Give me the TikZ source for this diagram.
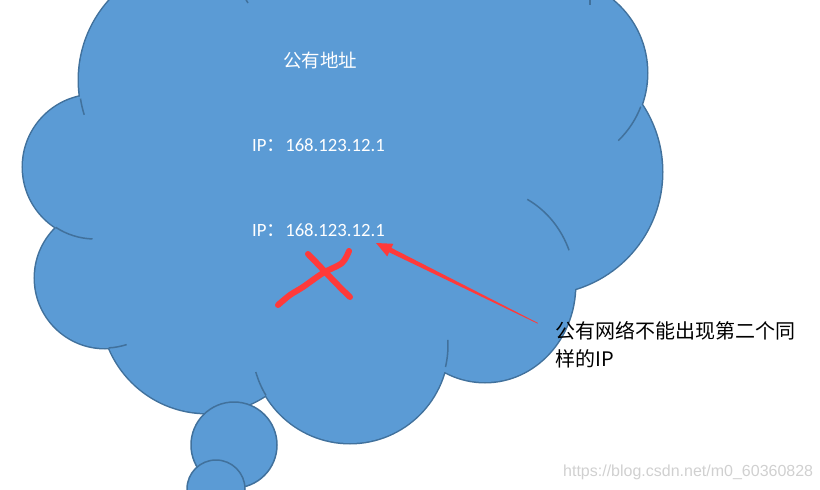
\documentclass[tikz,border=0pt]{standalone}
\usepackage{fontspec}
\setmainfont{Carlito}
\newfontfamily\cjk{Noto Sans CJK SC}
\newfontfamily\wmfont{Liberation Sans}
\definecolor{cloudfill}{RGB}{91,155,213}
\definecolor{cloudline}{RGB}{65,113,156}
\definecolor{markred}{RGB}{255,58,58}
\definecolor{wmgray}{RGB}{208,208,208}
\tikzset{
  outline/.style={draw=cloudline, line width=3},
  inner/.style={draw=cloudline, line width=1.5},
  bubble/.style={fill=cloudfill, draw=cloudline, line width=1.5},
  wtext/.style={text=white, inner sep=0pt},
  strokex/.style={draw=markred, line width=6, line cap=round, line join=round},
}
\begin{document}
\begin{tikzpicture}[x=1pt,y=-1pt]
\useasboundingbox (0,0) rectangle (820,490);
\begin{scope}
\clip (0,0) rectangle (820,490);
% outer outline (half of it will be covered by the fill)
\path[outline]
  (198,80) circle[radius=119]
  (95,167) circle[radius=72]
  (105,278) circle[radius=70]
  (207,307) circle[radius=106]
  (350,345) circle[radius=98]
  (485,285) ellipse[x radius=90, y radius=97]
  (540,172) circle[radius=122]
  (553,73) circle[radius=94]
  (420,-30) circle[radius=150];
% fill
\fill[cloudfill]
  (198,80) circle[radius=119]
  (95,167) circle[radius=72]
  (105,278) circle[radius=70]
  (207,307) circle[radius=106]
  (350,345) circle[radius=98]
  (485,285) ellipse[x radius=90, y radius=97]
  (540,172) circle[radius=122]
  (553,73) circle[radius=94]
  (420,-30) circle[radius=150];
\fill[cloudfill] (198,80) -- (95,167) -- (105,278) -- (207,307) -- (350,345) -- (485,285) -- (540,172) -- (553,73) -- (420,-30) -- cycle;
% inner arcs
\draw[inner] (198,80) ++(171:119) arc[start angle=171, end angle=163, radius=119];
\draw[inner] (95,167) ++(123:72) arc[start angle=123, end angle=92, radius=72];
\draw[inner] (105,278) ++(87:70) arc[start angle=87, end angle=72, radius=70];
\draw[inner] (350,345) ++(149:98) arc[start angle=149, end angle=164, radius=98];
\draw[inner] (350,345) ++(13:98) arc[start angle=13, end angle=-3, radius=98];
\draw[inner] (485,285) ++(-62:90 and 97) arc[start angle=-62, end angle=-21, x radius=90, y radius=97];
\draw[inner] (553,73) ++(21:94) arc[start angle=21, end angle=46, radius=94];
\draw[inner] (245,-2) -- (248,3);
\draw[inner] (590,-2) -- (590,5);
% thought bubbles
\path[bubble] (234,445) circle[radius=43];
\path[bubble] (216,489) circle[radius=29];
\end{scope}
% texts in the cloud
\node[wtext, anchor=base, font=\cjk\fontsize{18.5}{22}\selectfont] (title) at (320,67) {公有地址};
\node[wtext, anchor=base west, font=\fontsize{18.7}{22}\selectfont] (ipa) at (252,151) {IP{\cjk ：}168.123.12.1};
\node[wtext, anchor=base west, font=\fontsize{18.7}{22}\selectfont] (ipb) at (252,236) {IP{\cjk ：}168.123.12.1};
% red cross
\draw[strokex] (308,254) .. controls (320,266) and (336,284) .. (350,297);
\draw[strokex] plot[smooth] coordinates {(278,305) (290,295) (303,287) (323,273) (342,263) (349,251)};
% red arrow
\coordinate (atip) at (376,243);
\coordinate (atail) at (538,323);
\fill[markred] (atip) -- (393.4,243.8) -- (391.4,247.9) -- (atail) -- (537.6,323.6) -- (389.2,252.3) -- (387.2,256.4) -- cycle;
% note
\node[anchor=base west, inner sep=0pt, font=\cjk\fontsize{20}{24}\selectfont] (notea) at (555,338) {公有网络不能出现第二个同};
\node[anchor=base west, inner sep=0pt, font=\cjk\fontsize{20}{24}\selectfont] (noteb) at (555,366) {样的IP};
% watermark
\node[anchor=base west, inner sep=0pt, text=wmgray, font=\wmfont\fontsize{16}{18}\selectfont] (wm) at (563,476) {https://blog.csdn.net/m0\_60360828};
\end{tikzpicture}
\end{document}
